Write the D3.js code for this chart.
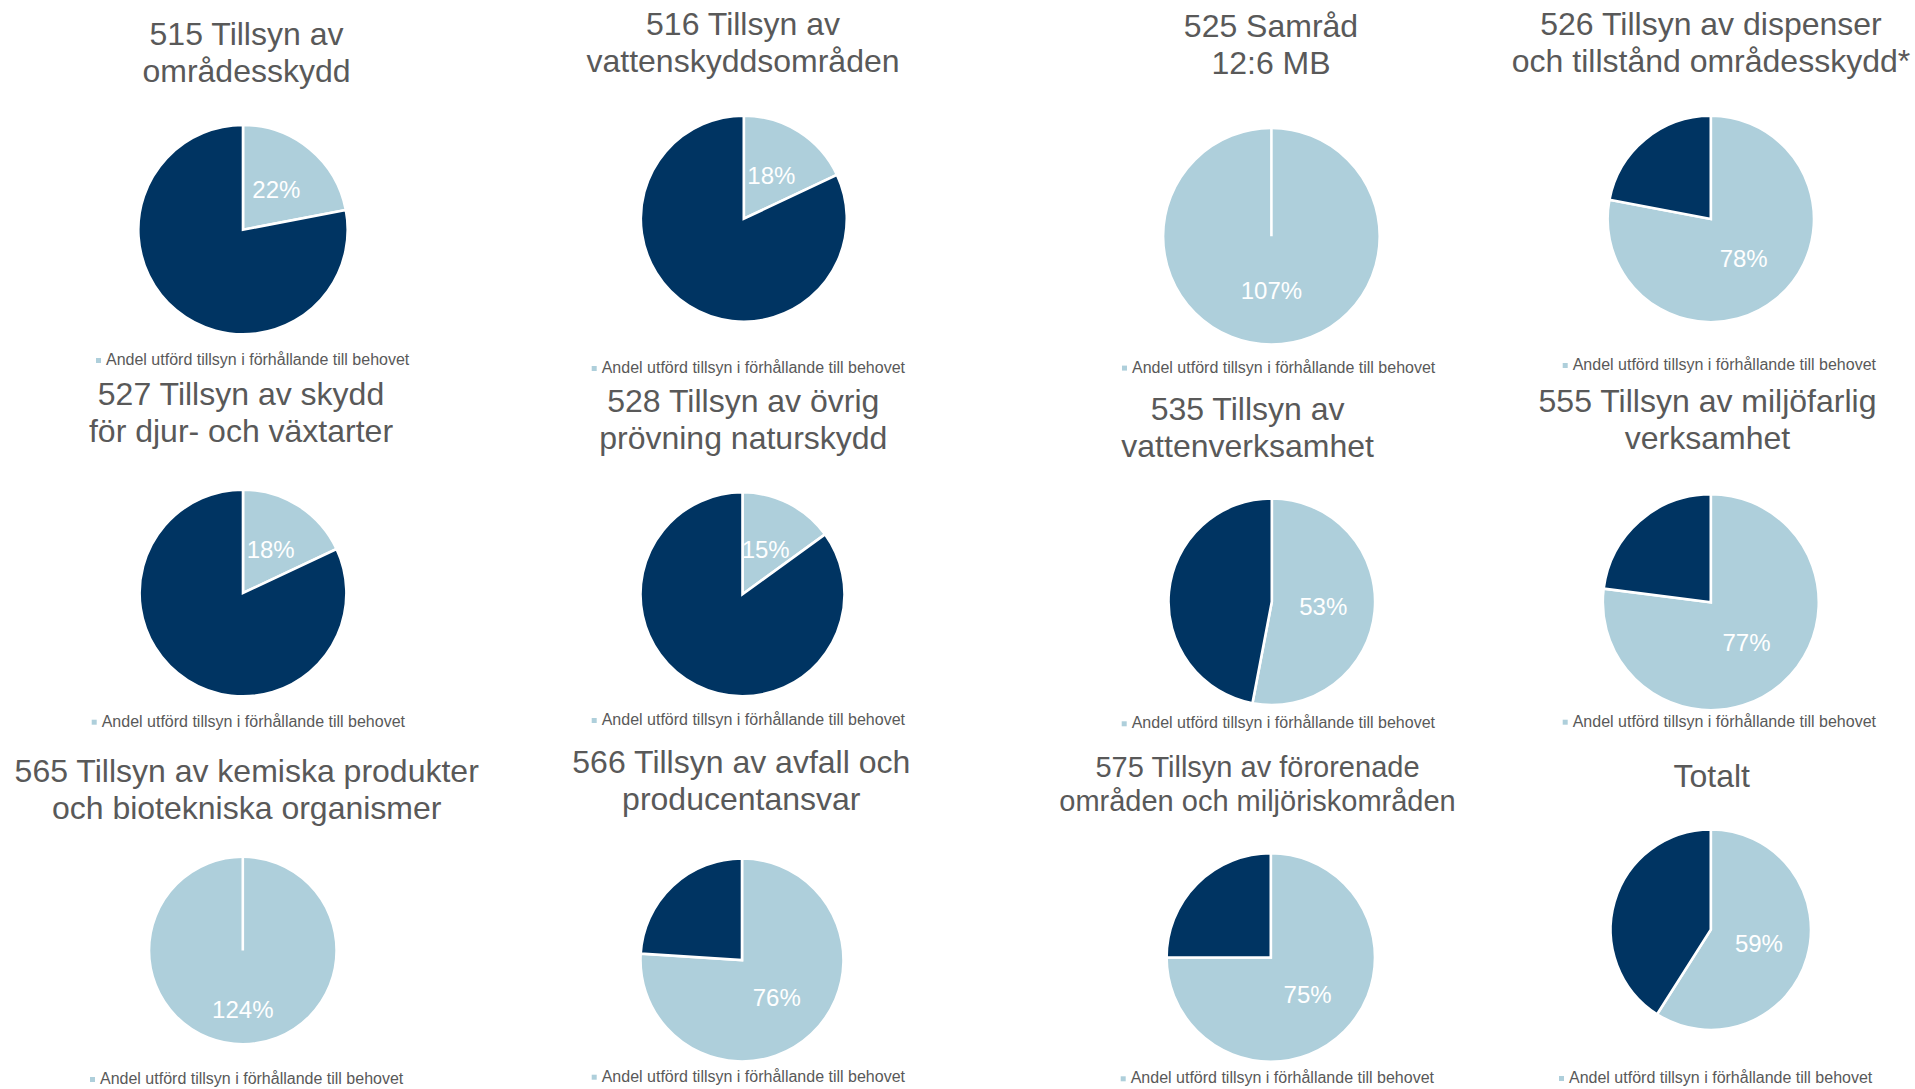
<!DOCTYPE html>
<html>
<head>
<meta charset="utf-8">
<script src="https://cdn.jsdelivr.net/npm/d3@7"></script>
<style>
  html, body { margin: 0; padding: 0; background: #ffffff; }
  svg { display: block; }
  text { font-family: "Liberation Sans", Arial, sans-serif; }
</style>
</head>
<body>
<svg id="chart" width="1915" height="1089"></svg>
<script>
// ---- Data ----
const titles = [
  ["515 Tillsyn av", "områdesskydd"],
  ["516 Tillsyn av", "vattenskyddsområden"],
  ["525 Samråd", "12:6 MB"],
  ["526 Tillsyn av dispenser", "och tillstånd områdesskydd*"],
  ["527 Tillsyn av skydd", "för djur- och växtarter"],
  ["528 Tillsyn av övrig", "prövning naturskydd"],
  ["535 Tillsyn av", "vattenverksamhet"],
  ["555 Tillsyn av miljöfarlig", "verksamhet"],
  ["565 Tillsyn av kemiska produkter", "och biotekniska organismer"],
  ["566 Tillsyn av avfall och", "producentansvar"],
  ["575 Tillsyn av förorenade", "områden och miljöriskområden"],
  ["Totalt"]
];
const values = [22, 18, 107, 78, 18, 15, 53, 77, 124, 76, 75, 59]; // % utförd tillsyn
const seriesName = "Andel utförd tillsyn i förhållande till behovet";

// ---- Layout (positions / sizes only) ----
const layout = [
  {cx: 243,    cy: 229.7, r: 104.7, tx: 246.5,  ty: 45,    lx: 106,    ly: 365},
  {cx: 743.8,  cy: 218.7, r: 103,   tx: 743,    ty: 35,    lx: 601.7,  ly: 373},
  {cx: 1271.4, cy: 236.3, r: 108.3, tx: 1271,   ty: 36.6,  lx: 1132,   ly: 372.6},
  {cx: 1710.8, cy: 219,   r: 103.2, tx: 1711,   ty: 35,    lx: 1572.7, ly: 370},
  {cx: 243,    cy: 593,   r: 103.4, tx: 241,    ty: 405,   lx: 101.7,  ly: 726.7},
  {cx: 742.5,  cy: 594.3, r: 102,   tx: 743.3,  ty: 411.7, lx: 601.7,  ly: 725},
  {cx: 1271.8, cy: 601.7, r: 103.3, tx: 1247.6, ty: 420,   lx: 1131.7, ly: 728.3},
  {cx: 1710.8, cy: 602.2, r: 108,   tx: 1707.5, ty: 412.3, lx: 1572.7, ly: 726.7},
  {cx: 242.8,  cy: 950.5, r: 93.8,  tx: 246.7,  ty: 781.7, lx: 100,    ly: 1084, labelR: 0.63},
  {cx: 742,    cy: 960,   r: 101.5, tx: 741.3,  ty: 773.3, lx: 601.7,  ly: 1081.7},
  {cx: 1270.8, cy: 957.5, r: 104.2, tx: 1257.5, ty: 776.7, lx: 1130.7, ly: 1083.3, fs: 29, lh: 34},
  {cx: 1710.8, cy: 929.7, r: 100.2, tx: 1711.7, ty: 786.7, lx: 1569,   ly: 1083}
];

const colorDone = "#aecfdb";
const colorRest = "#003462";
const textGray = "#595959";

const svg = d3.select("#chart");
const pie = d3.pie().sort(null).value(d => d.v);
const color = d3.scaleOrdinal().domain(["done", "rest"]).range([colorDone, colorRest]);

values.forEach((val, i) => {
  const L = layout[i];
  const fs = L.fs || 32, lh = L.lh || 37;
  const g = svg.append("g");

  // Title
  const t = g.append("text")
    .attr("text-anchor", "middle")
    .attr("fill", textGray)
    .style("font-size", fs + "px");
  titles[i].forEach((line, k) => {
    t.append("tspan").attr("x", L.tx).attr("y", L.ty + k * lh).text(line);
  });

  // Pie
  const slices = [{k: "done", v: val}, {k: "rest", v: Math.max(0, 100 - val)}];
  const arcs = pie(slices);
  const arc = d3.arc().innerRadius(0).outerRadius(L.r);
  const pg = g.append("g").attr("transform", `translate(${L.cx},${L.cy})`);
  pg.selectAll("path").data(arcs).join("path")
    .attr("d", arc)
    .attr("fill", d => color(d.data.k))
    .attr("stroke", "#ffffff")
    .attr("stroke-width", 2.6)
    .attr("stroke-linejoin", "miter");

  // Data label on the "done" slice
  const lf = L.labelR || 0.5;
  const labelArc = d3.arc().innerRadius(L.r * lf * 2 - L.r).outerRadius(L.r);
  const a = arcs[0];
  const mid = (a.startAngle + a.endAngle) / 2;
  const lr = L.r * lf;
  pg.append("text")
    .attr("x", Math.sin(mid) * lr)
    .attr("y", -Math.cos(mid) * lr)
    .attr("dy", "0.36em")
    .attr("text-anchor", "middle")
    .attr("fill", "#ffffff")
    .style("font-size", "24px")
    .text(d3.format(".0f")(val) + "%");

  // Legend
  const lg = g.append("g");
  lg.append("rect")
    .attr("x", L.lx - 10).attr("y", L.ly - 7)
    .attr("width", 5).attr("height", 5)
    .attr("fill", colorDone);
  lg.append("text")
    .attr("x", L.lx).attr("y", L.ly)
    .attr("fill", textGray)
    .style("font-size", "16px")
    .text(seriesName);
});
</script>
</body>
</html>
